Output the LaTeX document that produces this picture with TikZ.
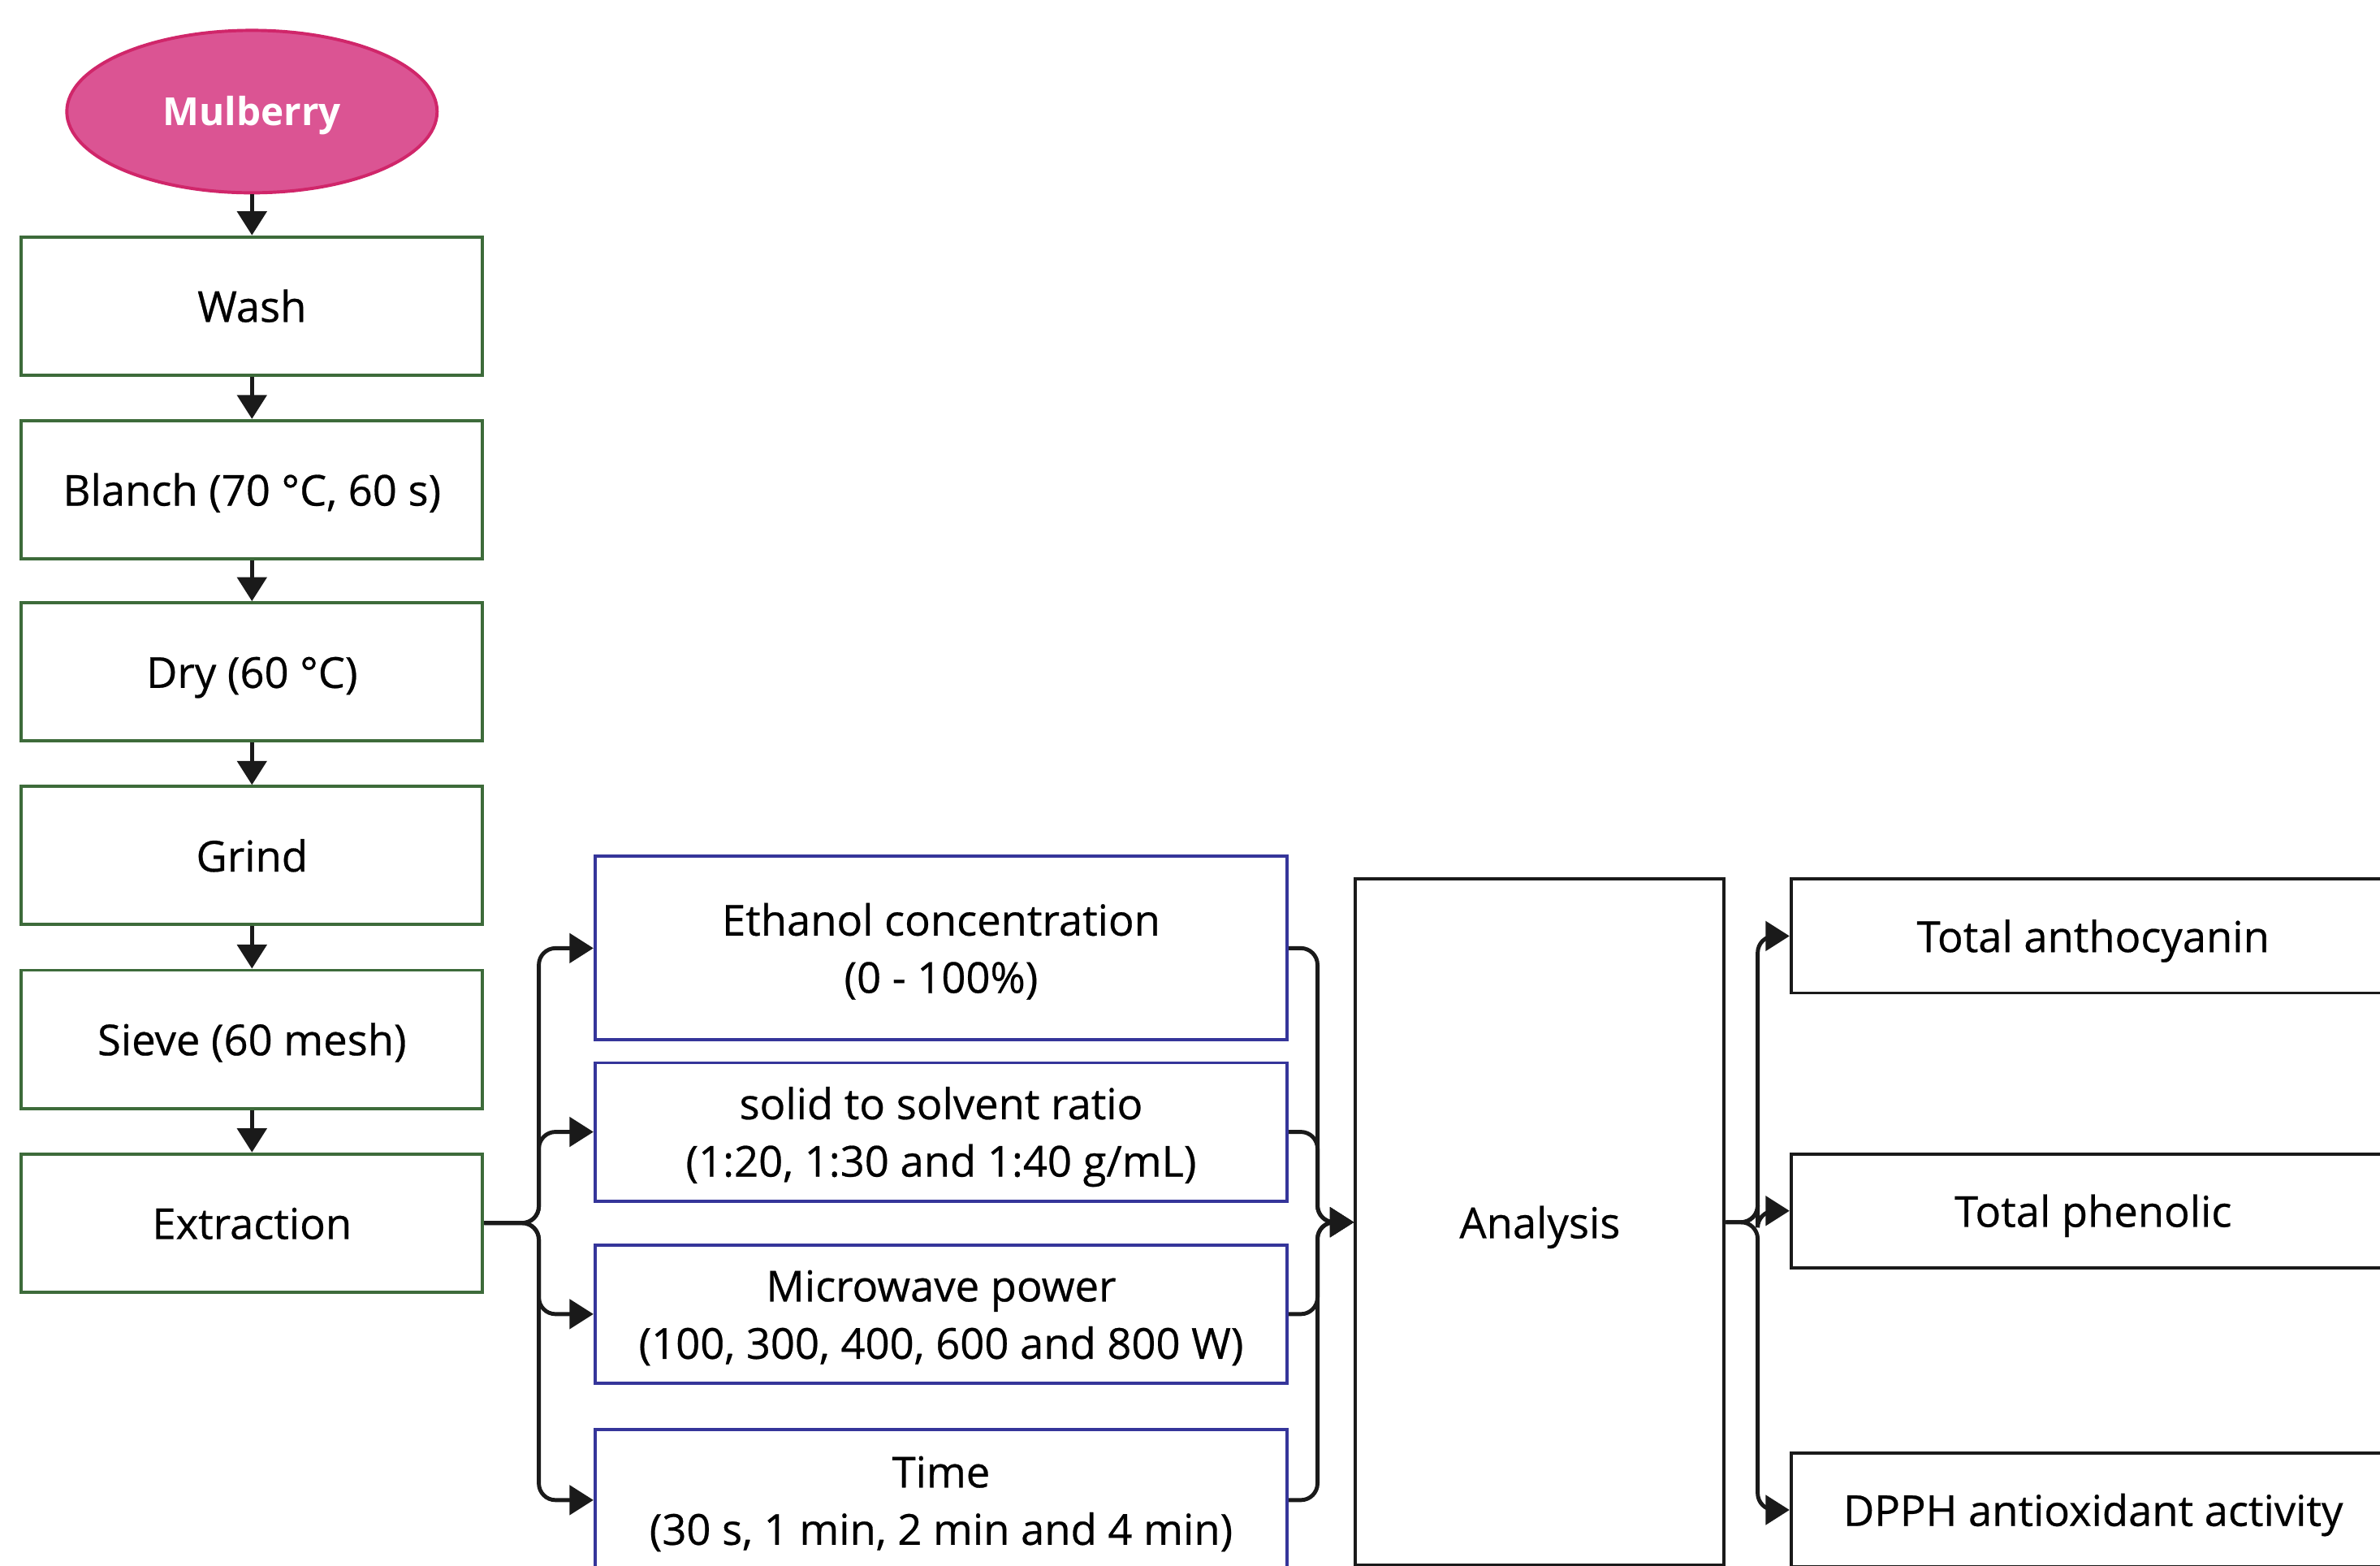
\documentclass[tikz,border=0pt]{standalone}
\usepackage{fontspec}
\setmainfont{Open Sans}
\newfontfamily\medopen{Open Sans}[FakeBold=0.5]
\usetikzlibrary{shapes.geometric,arrows.meta}
\definecolor{pinkfill}{HTML}{DB5493}
\definecolor{pinkline}{HTML}{D0266A}
\definecolor{greenline}{HTML}{3D6B3A}
\definecolor{blueline}{HTML}{35359A}
\definecolor{linecol}{HTML}{1A1A1A}
\newcommand{\boxfont}{\medopen\fontsize{16}{21.5}\selectfont}
\newcommand{\dn}[1]{\raisebox{-1.7pt}[\height][\depth]{\begin{tabular}{@{}c@{}}#1\end{tabular}}}
\tikzset{
  basebox/.style={rectangle, line width=1.2pt, fill=white, inner sep=0pt, align=center, font=\boxfont, text=black},
  lbox/.style={basebox, draw=greenline, minimum width=6.08cm, minimum height=1.82cm},
  bbox/.style={basebox, draw=blueline, minimum width=9.12cm},
  kbox/.style={basebox, draw=linecol},
  conn/.style={line width=1.5pt, draw=linecol, rounded corners=0.22cm, -{Triangle[length=9pt,width=11pt]}},
}
\begin{document}
\begin{tikzpicture}[x=0.02cm, y=-0.02cm]
\useasboundingbox (0,0) rectangle (1568,1031);
\clip (0,0) rectangle (1568,1031);
% left column
\node[ellipse, fill=pinkfill, draw=pinkline, line width=1.2pt, minimum width=4.88cm, minimum height=2.14cm, inner sep=0pt, text=white, font=\fontsize{14.5}{17}\selectfont\bfseries] (mul) at (166,73.5) {\dn{Mulberry}};
\node[lbox] (wash) at (166,201.5) {\dn{Wash}};
\node[lbox] (blan) at (166,322.5) {\dn{Blanch (70 °C, 60 s)}};
\node[lbox] (dry) at (166,442.5) {\dn{Dry (60 °C)}};
\node[lbox] (grind) at (166,563.5) {\dn{Grind}};
\node[lbox] (sieve) at (166,684.5) {\dn{Sieve (60 mesh)}};
\node[lbox] (ext) at (166,805.5) {\dn{Extraction}};
\draw[conn] (mul.south) -- (wash.north);
\draw[conn] (wash.south) -- (blan.north);
\draw[conn] (blan.south) -- (dry.north);
\draw[conn] (dry.south) -- (grind.north);
\draw[conn] (grind.south) -- (sieve.north);
\draw[conn] (sieve.south) -- (ext.north);
% middle column
\node[bbox, minimum height=2.42cm] (eth) at (620,624.5) {\dn{Ethanol concentration\\(0 - 100\%)}};
\node[bbox, minimum height=1.82cm] (sol) at (620,745.5) {\dn{solid to solvent ratio\\(1:20, 1:30 and 1:40 g/mL)}};
\node[bbox, minimum height=1.82cm] (mic) at (620,865.5) {\dn{Microwave power\\(100, 300, 400, 600 and 800 W)}};
\node[bbox, minimum height=1.86cm] (tim) at (620,988) {\dn{Time\\(30 s, 1 min, 2 min and 4 min)}};
\coordinate (b1) at (355,805.5);
\foreach \t in {eth,sol,mic,tim}{\draw[conn] (ext.east) -- (b1) |- (\t.west);}
% analysis
\node[kbox, minimum width=4.86cm, minimum height=9.04cm] (ana) at (1014.5,805) {\dn{Analysis}};
\coordinate (b2) at (868,805);
\foreach \s in {eth,sol,mic,tim}{\draw[conn] (\s.east) -| (b2) -- (ana.west);}
% outputs
\node[kbox, minimum width=7.96cm, minimum height=1.5cm] (tan) at (1379,616.5) {\dn{Total anthocyanin}};
\node[kbox, minimum width=7.96cm, minimum height=1.5cm] (tph) at (1379,797.5) {\dn{Total phenolic}};
\node[kbox, minimum width=7.96cm, minimum height=1.5cm] (dpph) at (1379,994.5) {\dn{DPPH antioxidant activity}};
\coordinate (b3) at (1158,805);
\foreach \t in {tan,tph,dpph}{\draw[conn] (ana.east) -- (b3) |- (\t.west);}
\end{tikzpicture}
\end{document}
